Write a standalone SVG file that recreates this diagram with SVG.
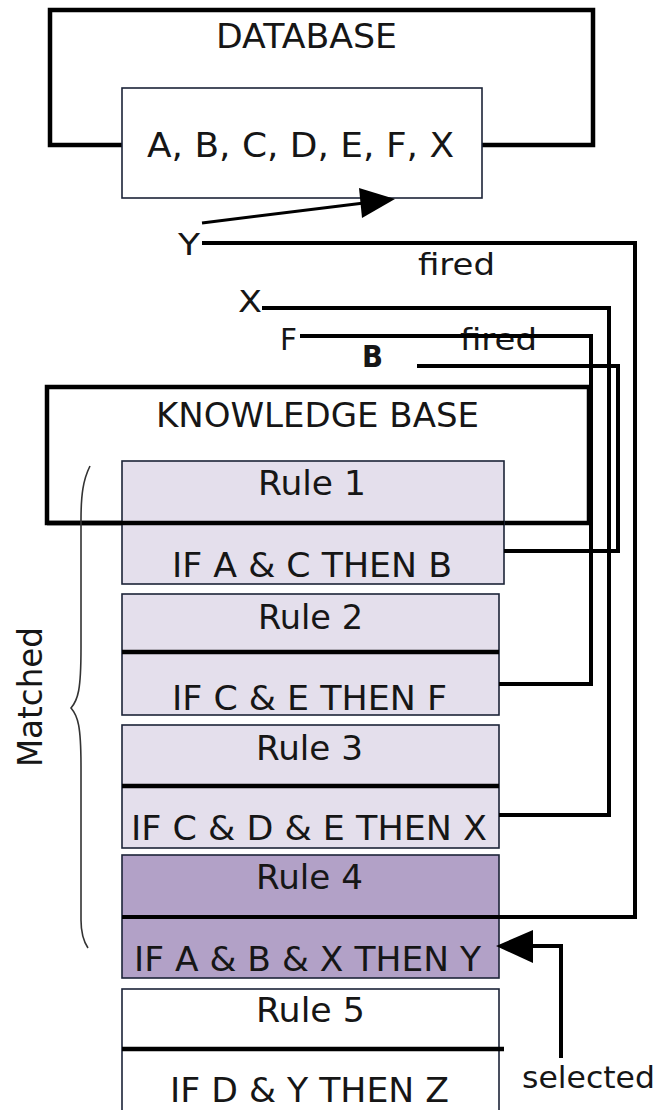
<svg xmlns="http://www.w3.org/2000/svg" width="659" height="1110" viewBox="0 0 659 1110">
  <style>
    text { font-family: "DejaVu Sans", "Liberation Sans", sans-serif; fill: #161616; }
    .t { font-size: 33px; }
    .c { font-size: 34px; }
    .s { font-size: 31px; }
    .frame { fill: none; stroke: #000; stroke-width: 4.5; }
    .box { stroke: #1c2438; stroke-width: 1.6; }
    .light { fill: #e4dfec; }
    .dark { fill: #b2a1c7; }
    .white { fill: #ffffff; }
    .div { stroke: #000; stroke-width: 4.5; }
    .wire { fill: none; stroke: #000; stroke-width: 4; stroke-linejoin: miter; }
  </style>

  <!-- database frame and its contents -->
  <g id="database">
    <rect class="frame" x="50" y="10" width="543" height="135"/>
    <text class="c" x="216" y="48" textLength="181" lengthAdjust="spacingAndGlyphs">DATABASE</text>
    <rect class="box white" x="122" y="88" width="360" height="110"/>
    <text class="t" x="147" y="157" textLength="307" lengthAdjust="spacingAndGlyphs">A, B, C, D, E, F, X</text>
  </g>

  <!-- knowledge base frame -->
  <g id="knowledge-base">
    <rect class="frame" x="47" y="387" width="542" height="136"/>
    <text class="c" x="156" y="427" textLength="323" lengthAdjust="spacingAndGlyphs">KNOWLEDGE BASE</text>
  </g>

  <g id="rule1">
    <rect class="box light" x="122" y="461" width="382" height="123"/>
    <line class="div" x1="47" y1="523" x2="504" y2="523"/>
    <text class="t" x="258" y="495" textLength="108" lengthAdjust="spacingAndGlyphs">Rule 1</text>
    <text class="c" x="172" y="577" textLength="280" lengthAdjust="spacingAndGlyphs">IF A &amp; C THEN B</text>
  </g>

  <g id="rule2">
    <rect class="box light" x="122" y="594" width="377" height="121"/>
    <line class="div" x1="122" y1="652" x2="499" y2="652"/>
    <text class="t" x="258" y="629" textLength="105" lengthAdjust="spacingAndGlyphs">Rule 2</text>
    <text class="c" x="172" y="710" textLength="275" lengthAdjust="spacingAndGlyphs">IF C &amp; E THEN F</text>
  </g>

  <g id="rule3">
    <rect class="box light" x="122" y="725" width="377" height="123"/>
    <line class="div" x1="122" y1="786" x2="499" y2="786"/>
    <text class="t" x="256" y="760" textLength="107" lengthAdjust="spacingAndGlyphs">Rule 3</text>
    <text class="c" x="131" y="840" textLength="356" lengthAdjust="spacingAndGlyphs">IF C &amp; D &amp; E THEN X</text>
  </g>

  <g id="rule4">
    <rect class="box dark" x="122" y="855" width="377" height="123"/>
    <text class="t" x="256" y="889" textLength="107" lengthAdjust="spacingAndGlyphs">Rule 4</text>
    <text class="c" x="134" y="971" textLength="347" lengthAdjust="spacingAndGlyphs">IF A &amp; B &amp; X THEN Y</text>
  </g>

  <g id="rule5">
    <rect class="box white" x="122" y="989" width="377" height="130"/>
    <line class="div" x1="122" y1="1049" x2="504" y2="1049"/>
    <text class="t" x="256" y="1022" textLength="109" lengthAdjust="spacingAndGlyphs">Rule 5</text>
    <text class="c" x="170" y="1102" textLength="279" lengthAdjust="spacingAndGlyphs">IF D &amp; Y THEN Z</text>
  </g>

  <!-- brace grouping the matched rules -->
  <g id="matched">
    <path d="M90,466 C83,480 81,495 81,520 L81,648 C81,690 78,700 71,708 C78,716 81,726 81,767 L81,920 C81,935 84,942 88,948" fill="none" stroke="#333" stroke-width="1.6"/>
    <text class="t" transform="translate(42,767) rotate(-90)" textLength="140" lengthAdjust="spacingAndGlyphs">Matched</text>
  </g>

  <!-- fact labels produced by fired rules -->
  <g id="facts">
    <text class="s" x="178" y="255" textLength="22" lengthAdjust="spacingAndGlyphs">Y</text>
    <text class="s" x="238" y="312" textLength="24" lengthAdjust="spacingAndGlyphs">X</text>
    <text class="s" x="280" y="350" textLength="17" lengthAdjust="spacingAndGlyphs">F</text>
    <text class="s" x="362" y="367" font-weight="bold" textLength="21" lengthAdjust="spacingAndGlyphs">B</text>
    <text class="s" x="418" y="275" textLength="77" lengthAdjust="spacingAndGlyphs">fired</text>
    <text class="s" x="460" y="350" textLength="77" lengthAdjust="spacingAndGlyphs">fired</text>
    <text class="s" x="522" y="1088" textLength="133" lengthAdjust="spacingAndGlyphs">selected</text>
  </g>

  <!-- connectors -->
  <g id="connectors">
    <polyline class="wire" points="122,917 635,917 635,243 202,243"/>
    <polyline class="wire" points="499,815 609,815 609,308 262,308"/>
    <polyline class="wire" points="499,684 591,684 591,336 300,336"/>
    <polyline class="wire" points="504,551 618,551 618,366 417,366"/>
    <line x1="202" y1="223" x2="364" y2="203" stroke="#000" stroke-width="3"/>
    <polygon points="359,188 362,218 395,199" fill="#000"/>
    <polyline class="wire" points="561,1058 561,946 530,946"/>
    <polygon points="496,946 533,930 533,963" fill="#000"/>
  </g>
</svg>
